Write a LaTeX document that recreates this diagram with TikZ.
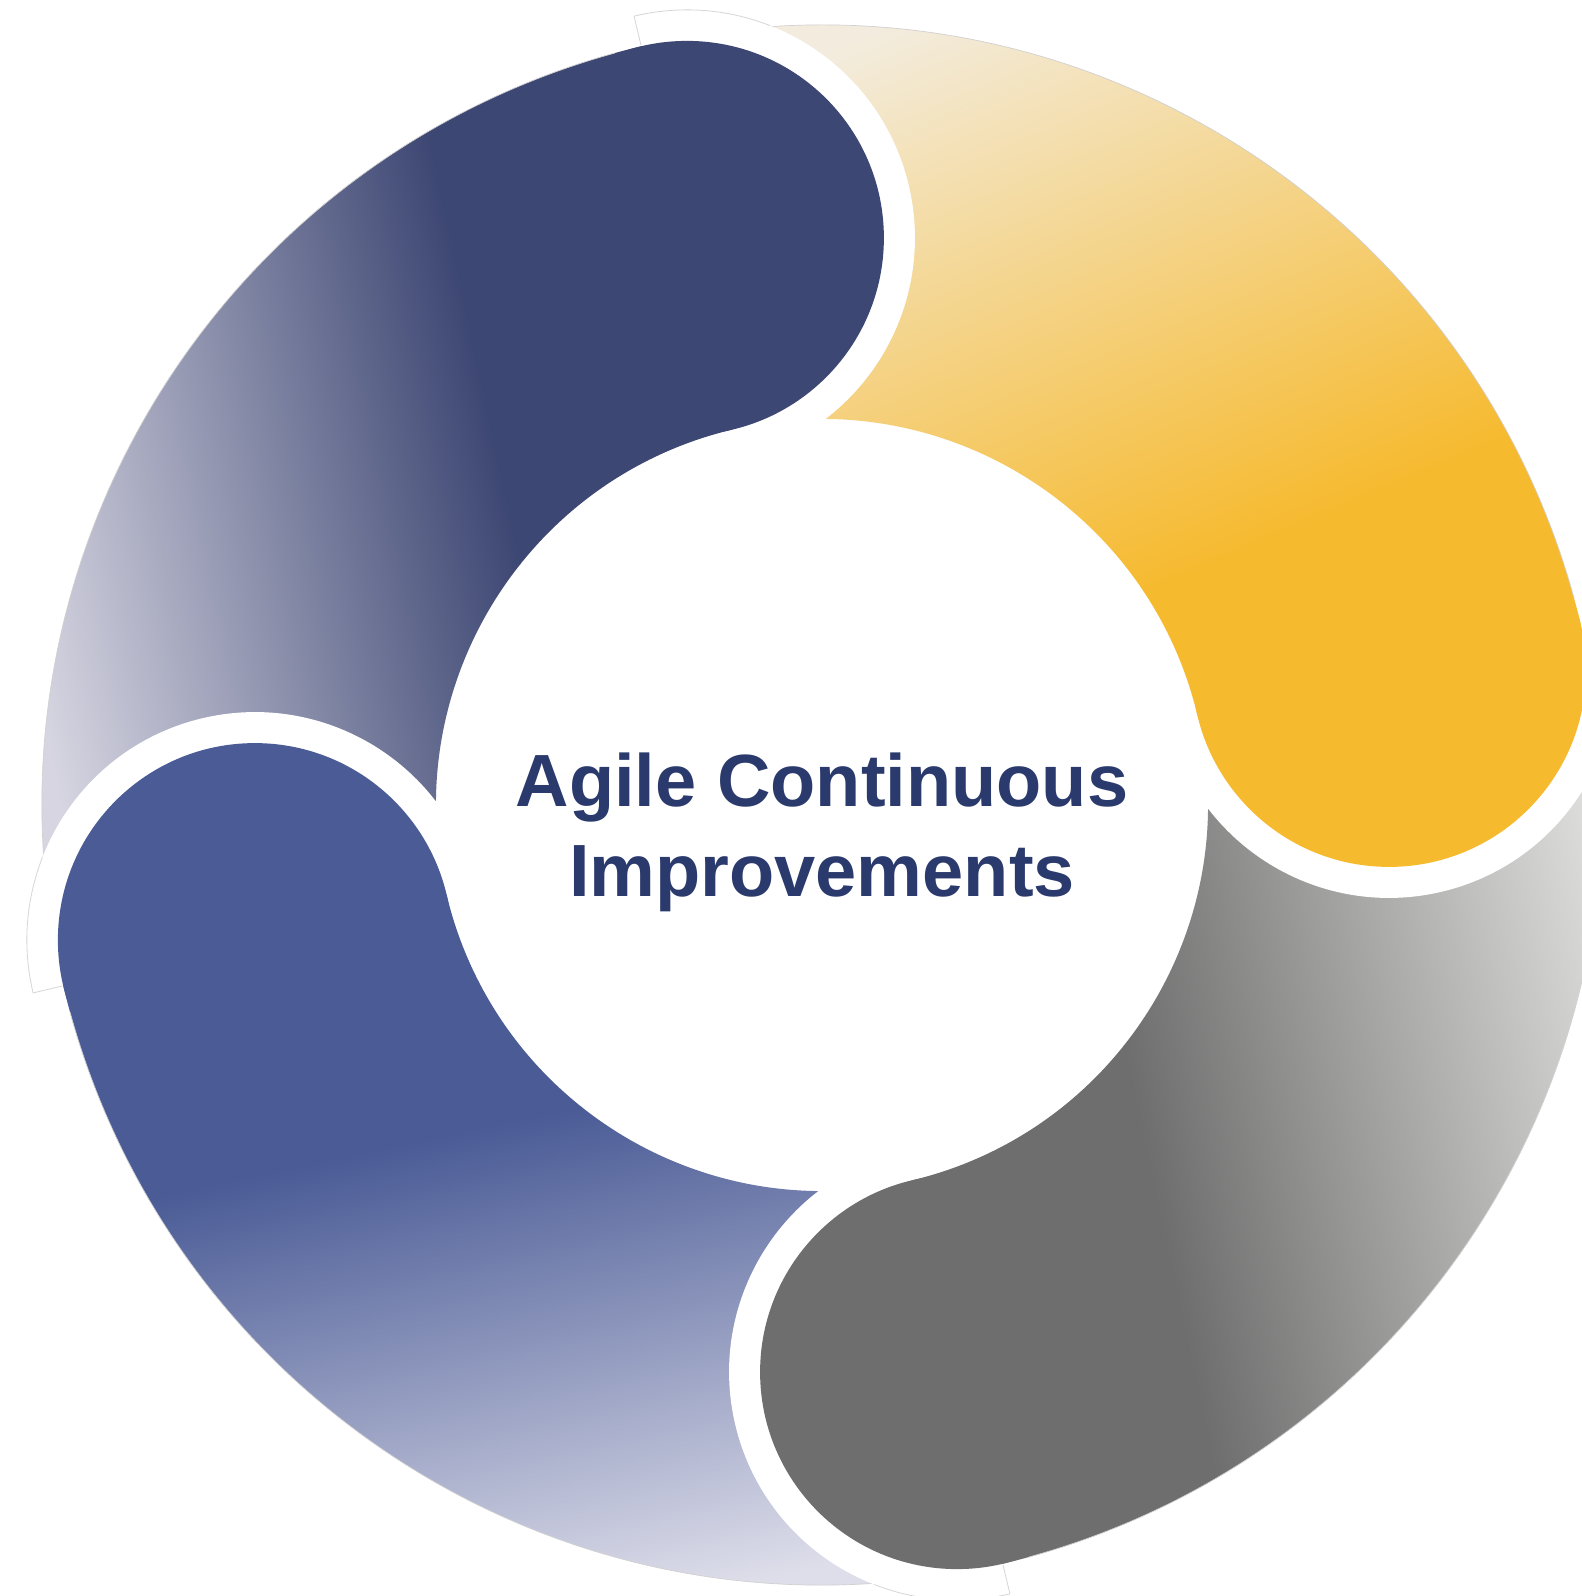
\documentclass[tikz,border=0pt]{standalone}
\usepackage{fontspec}
\setmainfont{Liberation Sans}
\definecolor{navyD}{HTML}{3D4773}
\definecolor{navyM}{HTML}{8782A5}
\definecolor{navyL}{HTML}{D6D5E1}
\definecolor{yelD}{HTML}{F6BA2F}
\definecolor{yelM}{HTML}{F5D58C}
\definecolor{yelL}{HTML}{F3ECDE}
\definecolor{grayD}{HTML}{6E6E6E}
\definecolor{grayM}{HTML}{A5A3A2}
\definecolor{grayL}{HTML}{DCDCDA}
\definecolor{bluD}{HTML}{4A5B96}
\definecolor{bluM}{HTML}{8787B2}
\definecolor{bluL}{HTML}{DEDEEA}
\definecolor{txt}{HTML}{2B3A6C}
\tikzset{
  ringedge/.style={draw=black!16, line width=0.8pt},
  outeredge/.style={draw=black!18, line width=0.7pt},
  titletext/.style={font=\fontsize{74pt}{90pt}\selectfont\bfseries, text=txt, anchor=base, inner sep=0pt}
}
% #1 dark start, #2 light end, #3 dark, #4 middle, #5 light
\newcommand\gradfill[5]{%
  \fill[#3] (-900pt,-900pt) rectangle (#1pt+1pt,900pt);
  \shade[left color=#3, middle color=#4, right color=#5] (#1pt,-900pt) rectangle (#2pt,900pt);
  \fill[#5] (#2pt-1pt,-900pt) rectangle (900pt,900pt);}
\begin{document}
\begin{tikzpicture}
\useasboundingbox (-822pt,-791pt) rectangle (760pt,805pt);
\fill[white] (-822pt,-791pt) rectangle (760pt,805pt);
\clip (-822pt,-791pt) rectangle (760pt,805pt);
% segment bodies
\foreach \a/\g/\p/\q/\cd/\cm/\cl in {103.4/192/245/745/navyD/navyM/navyL, 13.4/113/70/690/yelD/yelM/yelL, -76.6/12/245/745/grayD/grayM/grayL, 193.4/282/245/745/bluD/bluM/bluL}{
  \begin{scope}
    \clip (\a+90:780pt) arc[start angle=\a+90, end angle=\a, radius=780pt]
      arc[start angle=\a, end angle=\a-180, radius=197pt]
      arc[start angle=\a, end angle=\a+90, radius=386pt] -- cycle;
    \begin{scope}[transform canvas={rotate=\g}]
      \gradfill{\p}{\q}{\cd}{\cm}{\cl}
    \end{scope}
  \end{scope}
  \path[outeredge] (\a+90:780pt) arc[start angle=\a+90, end angle=\a+2, radius=780pt];
}
% white gaps in front of each head
\foreach \a in {103.4, 13.4, -76.6, 193.4}{
  \fill[white] (\a:583pt) ++(\a:228pt) arc[start angle=\a, end angle=\a-180, radius=228pt] -- cycle;
  \begin{scope}[even odd rule]
    \clip (-900pt,-900pt) rectangle (900pt,900pt) (0,0) circle[radius=781pt];
    \path[ringedge] (\a:583pt) ++(\a:228pt) arc[start angle=\a, end angle=\a-180, radius=228pt] -- cycle;
  \end{scope}
}
% heads on top
\foreach \a/\g/\p/\q/\cd/\cm/\cl in {103.4/192/245/745/navyD/navyM/navyL, 13.4/113/70/690/yelD/yelM/yelL, -76.6/12/245/745/grayD/grayM/grayL, 193.4/282/245/745/bluD/bluM/bluL}{
  \begin{scope}
    \clip (\a:583pt) circle[radius=197pt];
    \begin{scope}[transform canvas={rotate=\g}]
      \gradfill{\p}{\q}{\cd}{\cm}{\cl}
    \end{scope}
  \end{scope}
}
\node[titletext] (t1) at (0pt,-1pt) {Agile Continuous};
\node[titletext] (t2) at (0pt,-91pt) {Improvements};
\end{tikzpicture}
\end{document}
